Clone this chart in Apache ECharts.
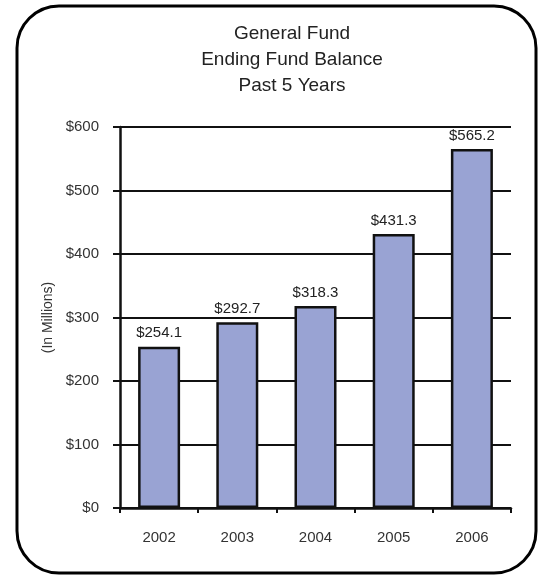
<!DOCTYPE html>
<html>
<head>
<meta charset="utf-8">
<script src="https://cdn.jsdelivr.net/npm/echarts@6/dist/echarts.min.js"></script>
<style>
  html, body { margin: 0; padding: 0; background: #fff; }
  #chart { width: 544px; height: 576px; }
</style>
</head>
<body>
<div id="chart"></div>
<script>
const years = ['2002', '2003', '2004', '2005', '2006'];
const balances = [254.1, 292.7, 318.3, 431.3, 565.2];
const titleLines = ['General Fund', 'Ending Fund Balance', 'Past 5 Years'];

const font = '"Liberation Sans Narrow", "Liberation Sans", Arial, sans-serif';
const chart = echarts.init(document.getElementById('chart'));

chart.setOption({
  animation: false,
  textStyle: { fontFamily: font },
  graphic: [
    {
      // rounded frame round the whole chart
      type: 'rect',
      shape: { x: 17, y: 6, width: 519, height: 567, r: 42 },
      style: { fill: 'none', stroke: '#000', lineWidth: 3 }
    }
  ],
  title: {
    text: titleLines.join('\n'),
    left: 287,
    textAlign: 'center',
    top: 16,
    textStyle: { fontFamily: font, fontSize: 19, fontWeight: 'normal', color: '#222', lineHeight: 26 }
  },
  grid: { left: 120, right: 33, top: 127, bottom: 68 },
  xAxis: {
    type: 'category',
    data: years,
    axisLine: { lineStyle: { color: '#111', width: 2.5 } },
    axisTick: { show: true, length: 5, lineStyle: { color: '#111', width: 2 } },
    axisLabel: { margin: 22, fontSize: 15, color: '#333', fontFamily: font }
  },
  yAxis: {
    type: 'value',
    min: 0,
    max: 600,
    interval: 100,
    name: '(In Millions)',
    nameLocation: 'middle',
    nameRotate: 90,
    nameGap: 64,
    nameTextStyle: { fontSize: 14, color: '#333', fontFamily: font },
    axisLine: { show: true, lineStyle: { color: '#111', width: 2.5 } },
    axisTick: { show: true, length: 7, lineStyle: { color: '#111', width: 2 } },
    axisLabel: { margin: 21, fontSize: 15, color: '#333', fontFamily: font, formatter: v => '$' + v },
    splitLine: { lineStyle: { color: '#111', width: 2 } }
  },
  series: [
    {
      type: 'bar',
      data: balances,
      barWidth: 42,
      itemStyle: { color: '#99A3D3', borderColor: '#111', borderWidth: 2.5 },
      label: {
        show: true,
        position: 'top',
        distance: 6,
        fontSize: 15,
        color: '#222',
        fontFamily: font,
        formatter: p => '$' + p.value.toFixed(1)
      }
    }
  ]
});
</script>
</body>
</html>
